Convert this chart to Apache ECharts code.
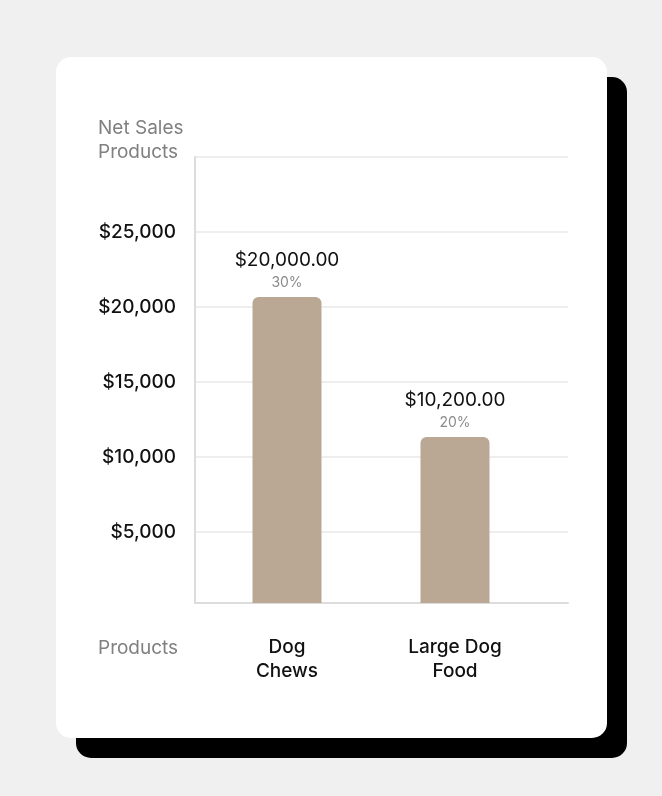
<!DOCTYPE html>
<html>
<head>
<meta charset="utf-8">
<script src="https://cdn.jsdelivr.net/npm/echarts@6/dist/echarts.min.js"></script>
<style>
html, body { margin: 0; padding: 0; background: #f0f0f0; }
#chart { width: 662px; height: 796px; }
</style>
</head>
<body>
<div id="chart"></div>
<script>
var categories = ['Dog\nChews', 'Large Dog\nFood'];
// bar heights as drawn in the picture
var barValues = [20400, 11070];
// amounts and shares printed above the bars
var salesAmounts = [20000, 10200];
var shares = [30, 20];
var yMin = 0, yMax = 30000, yStep = 5000;

var font = 'Inter, "Open Sans", sans-serif';

// the baseline of the bars sits a few px above the gridline zero
var gridTop = 157, gridH = 450, barGridH = 446;

var chart = echarts.init(document.getElementById('chart'));
chart.setOption({
    backgroundColor: '#f0f0f0',
    animation: false,
    textStyle: { fontFamily: font },
    graphic: [
        { type: 'rect', z: -10, shape: { x: 76, y: 77, width: 551, height: 681, r: 15 }, style: { fill: '#000' } },
        { type: 'rect', z: -9, shape: { x: 56, y: 57, width: 551, height: 681, r: 15 }, style: { fill: '#fff' } },
        { type: 'text', left: 98, top: 116, style: { text: 'Net Sales\nProducts', fill: '#808080', font: '19px ' + font, lineHeight: 24 } },
        { type: 'text', left: 98, top: 636, style: { text: 'Products', fill: '#808080', font: '19px ' + font, lineHeight: 24 } }
    ],
    grid: [
        { left: 195, top: gridTop, width: 373, height: gridH },
        { left: 203, top: gridTop, width: 336, height: barGridH }
    ],
    xAxis: [
        {
            gridIndex: 0, type: 'category', data: categories, offset: -4,
            axisLine: { lineStyle: { color: '#dcdcdc', width: 2 } },
            axisTick: { show: false }, axisLabel: { show: false }
        },
        {
            gridIndex: 1, type: 'category', data: categories,
            axisLine: { show: false }, axisTick: { show: false },
            axisLabel: { color: '#111', fontSize: 19, fontWeight: 500, lineHeight: 24, margin: 32 }
        }
    ],
    yAxis: [
        {
            gridIndex: 0, type: 'value', min: yMin, max: yMax, interval: yStep,
            axisLine: { show: false },
            axisTick: { show: false },
            splitLine: { showMinLine: false, lineStyle: { color: '#e8e8e8', width: 1.5 } },
            axisLabel: {
                color: '#111', fontSize: 19, fontWeight: 500, margin: 19,
                padding: [6, 0, 0, 0],
                showMinLabel: false, showMaxLabel: false,
                formatter: function (v) { return '$' + v.toLocaleString('en-US'); }
            }
        },
        {
            gridIndex: 1, type: 'value', min: yMin, max: yMax * barGridH / gridH,
            offset: 8,
            axisLine: { show: true, lineStyle: { color: '#dcdcdc', width: 2 } },
            axisTick: { show: false }, axisLabel: { show: false }, splitLine: { show: false }
        }
    ],
    series: [{
        type: 'bar',
        xAxisIndex: 1, yAxisIndex: 1,
        data: barValues,
        barWidth: 69,
        itemStyle: { color: '#baa895', borderRadius: [6, 6, 0, 0] },
        label: {
            show: true, position: 'top', distance: 4,
            formatter: function (p) {
                var amt = salesAmounts[p.dataIndex].toLocaleString('en-US', { minimumFractionDigits: 2 });
                return '{a|$' + amt + '}\n{b|' + shares[p.dataIndex] + '%}';
            },
            rich: {
                a: { fontSize: 19, color: '#111', lineHeight: 25, fontFamily: font },
                b: { fontSize: 14, color: '#8a8a8a', lineHeight: 20, fontFamily: font }
            }
        }
    }]
});
</script>
</body>
</html>
